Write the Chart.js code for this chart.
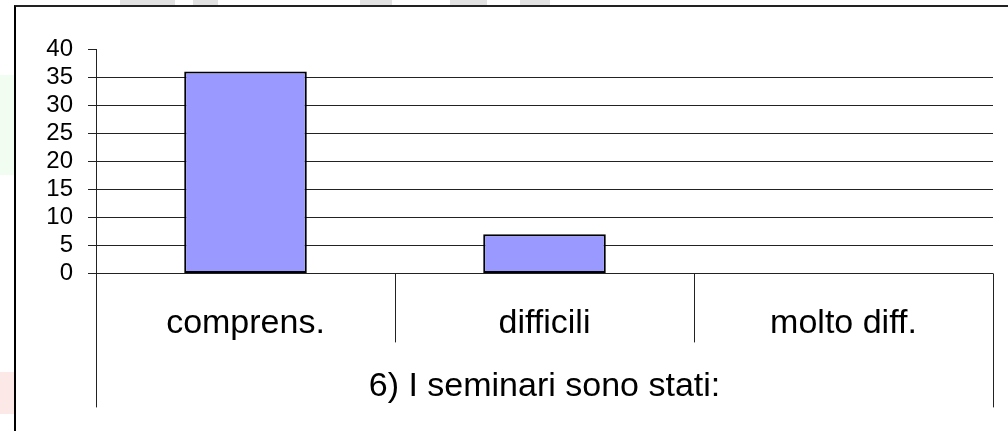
<!DOCTYPE html>
<html>
<head>
<meta charset="utf-8">
<script src="https://cdn.jsdelivr.net/npm/chart.js@4/dist/chart.umd.min.js"></script>
<style>
  html, body { margin: 0; padding: 0; background: #fff; }
  #wrap { position: relative; width: 1008px; height: 431px; overflow: hidden; }
  .deco { position: absolute; }
  #frame { position: absolute; left: 14px; top: 5px; width: 1100px; height: 500px;
    border-left: 2px solid #000; border-top: 2px solid #222; }
  canvas { position: absolute; left: 0; top: 0; }
</style>
</head>
<body>
<div id="wrap">
  <!-- faint background marks outside the chart frame -->
  <div class="deco" style="left:120px;top:0;width:55px;height:5px;background:#e2e2e2"></div>
  <div class="deco" style="left:193px;top:0;width:25px;height:5px;background:#e2e2e2"></div>
  <div class="deco" style="left:360px;top:0;width:32px;height:5px;background:#e2e2e2"></div>
  <div class="deco" style="left:450px;top:0;width:37px;height:5px;background:#e2e2e2"></div>
  <div class="deco" style="left:520px;top:0;width:30px;height:5px;background:#e2e2e2"></div>
  <div class="deco" style="left:0;top:75px;width:14px;height:100px;background:#f0fdf0"></div>
  <div class="deco" style="left:0;top:372px;width:14px;height:42px;background:#fde8e8"></div>
  <div id="frame"></div>
  <canvas id="chart" width="1008" height="431"></canvas>
</div>
<script>
const categories = ["comprens.", "difficili", "molto diff."];
const values = [36, 7, 0];
const axisTitle = "6) I seminari sono stati:";
const yMax = 40;
const yStep = 5;

const FONT = "'Liberation Sans', Arial, sans-serif";

// vertical separators under the category axis, outer ones longer
const separators = {
  id: "separators",
  afterDraw(chart) {
    const xs = chart.scales.x;
    const bottom = chart.chartArea.bottom;
    const ctx = chart.ctx;
    ctx.save();
    ctx.strokeStyle = "#222";
    ctx.lineWidth = 1;
    for (let i = 0; i <= categories.length; i++) {
      const x = Math.round(xs.getPixelForValue(i - 0.5)) + 0.5;
      const outer = i === 0 || i === categories.length;
      ctx.beginPath();
      ctx.moveTo(x, bottom);
      ctx.lineTo(x, bottom + (outer ? 134 : 69));
      ctx.stroke();
    }
    ctx.restore();
  },
};

new Chart(document.getElementById("chart"), {
  type: "bar",
  data: {
    labels: categories,
    datasets: [
      {
        data: values,
        backgroundColor: "#9999ff",
        borderColor: "#000",
        borderWidth: 2,
        borderSkipped: false,
        categoryPercentage: 1,
        barPercentage: 0.41,
      },
    ],
  },
  options: {
    responsive: false,
    animation: false,
    devicePixelRatio: 1,
    layout: { padding: { top: 49, right: 15, left: 16, bottom: 6 } },
    plugins: { legend: { display: false }, tooltip: { enabled: false } },
    scales: {
      x: {
        grid: { display: false },
        border: { display: false },
        ticks: {
          color: "#000",
          font: { family: FONT, size: 34 },
          padding: 22,
          maxRotation: 0,
        },
        title: {
          display: true,
          text: axisTitle,
          color: "#000",
          font: { family: FONT, size: 34 },
          padding: { top: 0, bottom: 18 },
        },
      },
      y: {
        min: 0,
        max: yMax,
        afterFit: (s) => { s.width = 80; },
        ticks: {
          stepSize: yStep,
          autoSkip: false,
          color: "#000",
          font: { family: FONT, size: 24 },
          padding: 15,
        },
        grid: {
          color: (c) => (c.tick && c.tick.value === yMax ? "rgba(0,0,0,0)" : "#222"),
          tickColor: "#222",
          tickLength: 8,
          lineWidth: 1,
        },
        border: { display: true, color: "#222", width: 1 },
      },
    },
  },
  plugins: [separators],
});
</script>
</body>
</html>
